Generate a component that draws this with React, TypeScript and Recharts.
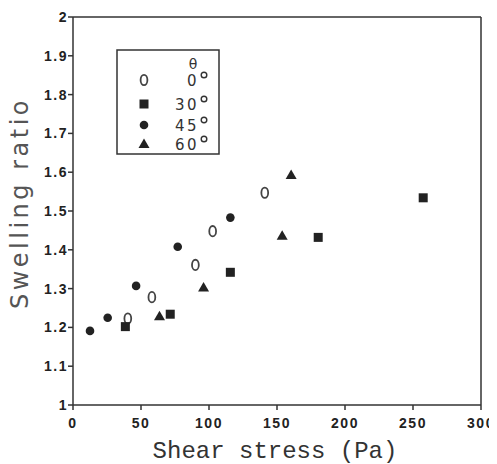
import React from 'react';
import { ScatterChart, Scatter, XAxis, YAxis, ReferenceLine } from 'recharts';

const xTicks = [0, 50, 100, 150, 200, 250, 300];
const yTicks = [1, 1.1, 1.2, 1.3, 1.4, 1.5, 1.6, 1.7, 1.8, 1.9, 2];

const theta0X = [40.3, 58, 90, 102.7, 141];
const theta0Y = [1.223, 1.278, 1.361, 1.448, 1.547];
const theta30X = [38.5, 71.5, 115.7, 180.3, 257.5];
const theta30Y = [1.202, 1.234, 1.342, 1.432, 1.534];
const theta45X = [12.5, 25.5, 46.4, 77, 115.7];
const theta45Y = [1.191, 1.225, 1.307, 1.408, 1.483];
const theta60X = [63.6, 96, 153.8, 160.4];
const theta60Y = [1.229, 1.303, 1.436, 1.593];

const legendLabels = ['0', '30', '45', '60'];

const toPts = (xs: number[], ys: number[]) => xs.map((x, i) => ({ x, y: ys[i] }));
const d0 = toPts(theta0X, theta0Y);
const d30 = toPts(theta30X, theta30Y);
const d45 = toPts(theta45X, theta45Y);
const d60 = toPts(theta60X, theta60Y);

const INK = '#222';

const ZeroShape = (p: any) => (
  <ellipse cx={p.cx} cy={p.cy} rx={3.4} ry={5.2} fill="none" stroke="#444" strokeWidth={1.8} />
);
const SquareShape = (p: any) => (
  <rect x={p.cx - 4.5} y={p.cy - 4.5} width={9} height={9} fill={INK} />
);
const CircleShape = (p: any) => <circle cx={p.cx} cy={p.cy} r={4.3} fill={INK} />;
const TriShape = (p: any) => (
  <polygon
    points={`${p.cx},${p.cy - 5.5} ${p.cx + 5.5},${p.cy + 4} ${p.cx - 5.5},${p.cy + 4}`}
    fill={INK}
  />
);

const rowY = [31, 55, 76, 95];

const LegendBox = () => (
  <svg width={106} height={107} style={{ position: 'absolute', left: 108, top: 41 }}>
    <rect x={1} y={1} width={102} height={104} fill="white" stroke="#333" strokeWidth={1.5} />
    <text x={77} y={20} fontSize={14} fontFamily="DejaVu Sans" fill="#333" textAnchor="middle">θ</text>
    {legendLabels.map((lab, i) => {
      const cy = rowY[i];
      const cx = 28;
      let sym: any;
      if (i === 0) sym = <ZeroShape cx={cx} cy={cy} />;
      else if (i === 1) sym = <SquareShape cx={cx} cy={cy} />;
      else if (i === 2) sym = <CircleShape cx={cx} cy={cy} />;
      else sym = <TriShape cx={cx} cy={cy} />;
      return (
        <g key={lab}>
          {sym}
          <text
            x={83}
            y={cy + 5.5}
            fontSize={15}
            fontFamily="DejaVu Sans"
            fill="#333"
            textAnchor="end"
            letterSpacing={2.5}
          >
            {lab}
          </text>
          <circle cx={88} cy={cy - 5} r={2.8} fill="none" stroke="#333" strokeWidth={1.4} />
        </g>
      );
    })}
  </svg>
);

const tickStyle = {
  fontFamily: 'Liberation Sans, Arial',
  fontWeight: 700,
  fontSize: 14,
  fill: '#222',
  letterSpacing: 1.5,
};

export default function App() {
  return (
    <div style={{ position: 'relative', width: 497, height: 456 }}>
      <ScatterChart width={497} height={456} margin={{ top: 9, right: 24, bottom: 0, left: 0 }}>
        <XAxis
          type="number"
          dataKey="x"
          domain={[0, 300]}
          ticks={xTicks}
          interval={0}
          allowDataOverflow
          height={59}
          tickSize={5}
          tickMargin={8}
          tick={tickStyle}
          axisLine={{ stroke: '#333', strokeWidth: 1.5 }}
          tickLine={{ stroke: '#333', strokeWidth: 1.5 }}
          label={(props: any) => {
            const vb = props.viewBox;
            return (
              <text
                x={vb.x + vb.width / 2 - 2}
                y={450}
                textAnchor="middle"
                fontFamily="Liberation Mono"
                fontSize={24}
                fill="#333"
              >
                Shear stress (Pa)
              </text>
            );
          }}
        />
        <YAxis
          type="number"
          dataKey="y"
          domain={[1, 2]}
          ticks={yTicks}
          interval={0}
          allowDataOverflow
          width={65}
          tickSize={5}
          tickMargin={0}
          tick={tickStyle}
          tickFormatter={(v: number) => String(v)}
          axisLine={{ stroke: '#333', strokeWidth: 1.5 }}
          tickLine={{ stroke: '#333', strokeWidth: 1.5 }}
          label={(props: any) => {
            const vb = props.viewBox;
            const cx = 20;
            const cy = vb.y + vb.height / 2 - 8;
            return (
              <text
                x={cx}
                y={cy}
                transform={`rotate(-90 ${cx} ${cy})`}
                textAnchor="middle"
                fontFamily="DejaVu Sans"
                fontSize={24}
                letterSpacing={3.5}
                fill="#555"
              >
                Swelling ratio
              </text>
            );
          }}
        />
        <ReferenceLine y={2} stroke="#333" strokeWidth={1.5} />
        <ReferenceLine x={300} stroke="#333" strokeWidth={1.5} />
        <Scatter name="0" data={d0} shape={ZeroShape} isAnimationActive={false} />
        <Scatter name="30" data={d30} shape={SquareShape} isAnimationActive={false} />
        <Scatter name="45" data={d45} shape={CircleShape} isAnimationActive={false} />
        <Scatter name="60" data={d60} shape={TriShape} isAnimationActive={false} />
      </ScatterChart>
      <LegendBox />
    </div>
  );
}
